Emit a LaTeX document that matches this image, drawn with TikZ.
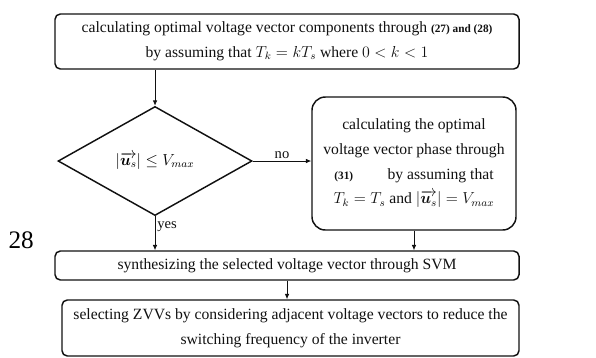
\documentclass[tikz,border=0pt]{standalone}
\usepackage{amsmath}
\usepackage{bm}
\usepackage{fontspec}
\setmainfont{Liberation Serif}
\usetikzlibrary{arrows.meta,positioning,shapes.geometric,calc}
\newcommand{\eqtag}[1]{{\fontsize{8.5}{10}\selectfont\bfseries #1}}
\newcommand{\vus}{|\overrightarrow{\bm{u}_s}|}
\definecolor{fink}{HTML}{111111}
\tikzset{
  fbox/.style={
    rounded corners=#1, draw=fink, line width=1.1pt, fill=white,
    text=fink, align=center, inner sep=2pt,
    font=\fontsize{11.8}{18.6}\selectfont},
  fbox/.default=4pt,
  fdiam/.style={
    diamond, draw=fink, line width=1.1pt, inner sep=0pt,
    minimum width=5.14cm, minimum height=2.89cm,
    font=\fontsize{11.8}{18.6}\selectfont},
  fflow/.style={-{Latex[length=4pt,width=3.4pt]}, draw=fink,
    line width=0.6pt},
  flabel/.style={text=fink, font=\fontsize{11}{13}\selectfont, inner sep=1.5pt},
}

\begin{document}
\begin{tikzpicture}[x=1cm,y=1cm]
\useasboundingbox (0,0) rectangle (15.794,-9.487);

% start: components
\node[fbox,minimum width=12.296cm,minimum height=1.458cm] (comp) at (7.606,-1.10)
  {calculating optimal voltage vector components through \eqtag{(27) and (28)}\\
   by assuming that $T_k = kT_s$ where $0 < k < 1$};

% test on the length
\node[fdiam] (test) at (4.108,-4.267) {$\vus \leq V_{max}$};

% phase, when the test fails
\node[fbox=10pt,minimum width=5.406cm,minimum height=3.524cm] (phase) at (10.971,-4.333)
  {calculating the optimal\\
   voltage vector phase through\\
   \eqtag{(31)}\hspace{2.2em}by assuming that\\
   $T_k = T_s$ and $\vus = V_{max}$};

% SVM
\node[fbox,minimum width=12.296cm,minimum height=0.768cm] (svm) at (7.606,-7.036)
  {synthesizing the selected voltage vector through SVM};

% zero vectors
\node[fbox,minimum width=12.111cm,minimum height=1.484cm] (zvv) at (7.698,-8.692)
  {selecting ZVVs by considering adjacent voltage vectors to reduce the\\
   switching frequency of the inverter};

% page number
\node[font=\fontsize{19}{20}\selectfont] (page) at (0.56,-6.36) {28};

% flow
\draw[fflow] (test.north |- comp.south) -- (test.north);
\draw[fflow] (test.east) -- (phase.west |- test.east)
  node[flabel,midway,above] (no) {no};
\draw[fflow] (test.south) -- (test.south |- svm.north)
  node[flabel,pos=0.3,right] (yes) {yes};
\draw[fflow] (phase.south) -- (phase.south |- svm.north);
\draw[fflow] (svm.south) -- (svm.south |- zvv.north);

\end{tikzpicture}
\end{document}
